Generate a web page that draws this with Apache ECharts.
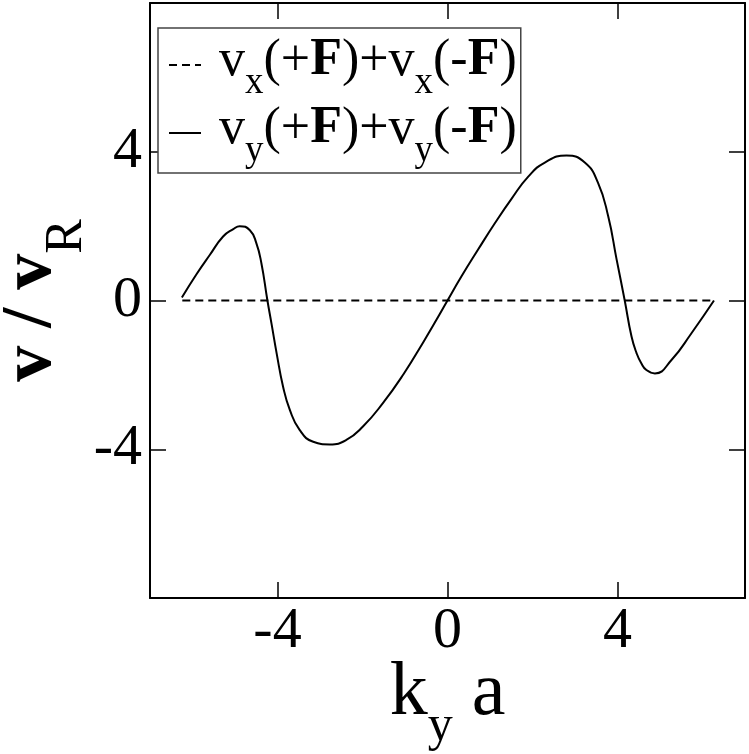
<!DOCTYPE html>
<html>
<head>
<meta charset="utf-8">
<script src="https://cdn.jsdelivr.net/npm/echarts@6.0.0/dist/echarts.min.js"></script>
<style>
  html, body { margin: 0; padding: 0; background: #ffffff; }
  #chart { width: 749px; height: 754px; }
</style>
</head>
<body>
<div id="chart"></div>
<script>
// v_x(+F)+v_x(-F) : flat at zero
const kyVx = [-6.24, 6.27];
const vx = [0, 0];

// v_y(+F)+v_y(-F)
const kyVy = [-6.25, -5.91, -5.59, -5.28, -5.04, -4.89, -4.65, -4.50, -4.38, -4.24, -4.14, -4.02, -3.87, -3.71, -3.48, -3.16, -2.77, -2.38, -1.99, -1.52, -1.04, -0.57, -0.26, 0,
              0.33, 0.72, 1.11, 1.51, 1.90, 2.29, 2.80, 3.23, 3.54, 3.78, 3.98, 4.17, 4.33, 4.45, 4.56, 4.68, 4.88, 5.27, 5.74, 6.27];
const vy = [0.08, 0.70, 1.23, 1.72, 1.92, 2.00, 1.89, 1.55, 1.01, 0.02, -0.63, -1.42, -2.31, -2.94, -3.48, -3.80, -3.87, -3.75, -3.39, -2.76, -1.99, -1.12, -0.52, 0,
            0.65, 1.37, 2.07, 2.74, 3.33, 3.71, 3.90, 3.71, 3.17, 2.27, 1.10, 0, -0.97, -1.42, -1.69, -1.87, -1.96, -1.60, -0.88, 0];

const xTicks = [-4, 0, 4];
const yTicks = [-4, 0, 4];

const serif = 'Liberation Serif';
const axisColor = '#000';

function pairs(xs, ys) {
    return xs.map((x, i) => [x, ys[i]]);
}

// box axes (bottom/left carry labels, top/right only ticks)
function xAx(pos, withLabels) {
    return {
        type: 'value', position: pos, min: -7, max: 7,
        splitLine: { show: false },
        axisLine: { show: true, onZero: false, lineStyle: { color: axisColor, width: 2 } },
        axisTick: { show: true, inside: true, length: 16, customValues: xTicks, lineStyle: { color: axisColor, width: 1.5 } },
        axisLabel: withLabels ? {
            show: true, customValues: xTicks, margin: 5, lineHeight: 58,
            fontFamily: serif, fontSize: 58, color: '#000'
        } : { show: false },
        name: withLabels ? '{m|k}{s|y}{m| a}' : '',
        nameLocation: 'middle',
        nameGap: 58,
        nameMoveOverlap: false,
        nameTextStyle: {
            rich: {
                m: { fontFamily: serif, fontSize: 76, lineHeight: 76, verticalAlign: 'top', color: '#000' },
                s: { fontFamily: serif, fontSize: 50, lineHeight: 50, verticalAlign: 'top', padding: [46, 0, 0, 0], color: '#000' }
            }
        }
    };
}

function yAx(pos, withLabels) {
    return {
        type: 'value', position: pos, min: -8, max: 8,
        splitLine: { show: false },
        axisLine: { show: true, onZero: false, lineStyle: { color: axisColor, width: 2 } },
        axisTick: { show: true, inside: true, length: 16, customValues: yTicks, lineStyle: { color: axisColor, width: 1.5 } },
        axisLabel: withLabels ? {
            show: true, customValues: yTicks, margin: 8,
            fontFamily: serif, fontSize: 58, color: '#000'
        } : { show: false },
        name: withLabels ? '{v|v / v}{r|R}' : '',
        nameLocation: 'middle',
        nameRotate: 90,
        nameGap: 75,
        nameMoveOverlap: false,
        nameTextStyle: {
            rich: {
                v: { fontFamily: serif, fontSize: 72, fontWeight: 'bold', lineHeight: 80, verticalAlign: 'top', color: '#000' },
                r: { fontFamily: serif, fontSize: 52, lineHeight: 52, verticalAlign: 'top', padding: [46, 0, 0, 0], color: '#000' }
            }
        }
    };
}

const legendText = {
    vx: '{g| }{m|v}{s|x}{m|(+}{b|F}{m|)+v}{s|x}{m|(-}{b|F}{m|)}',
    vy: '{g| }{m|v}{s|y}{m|(+}{b|F}{m|)+v}{s|y}{m|(-}{b|F}{m|)}'
};

let myChart = echarts.init(document.getElementById('chart'), null, { renderer: 'canvas' });

let option = {
    animation: false,
    backgroundColor: '#ffffff',
    grid: { left: 150, right: 4, top: 3, bottom: 156, containLabel: false, outerBoundsMode: 'none' },
    xAxis: [xAx('bottom', true), xAx('top', false)],
    yAxis: [yAx('left', true), yAx('right', false)],
    legend: {
        orient: 'vertical',
        left: 158,
        top: 28,
        padding: [7, 4, 3, 10],
        itemGap: 1,
        itemWidth: 32,
        itemHeight: 2,
        itemStyle: { opacity: 0, borderWidth: 0 },
        backgroundColor: '#ffffff',
        borderColor: '#444',
        borderWidth: 1.5,
        borderRadius: 0,
        data: ['vx', 'vy'],
        formatter: function (name) { return legendText[name]; },
        textStyle: {
            rich: {
                g: { width: 13, fontSize: 10 },
                m: { fontFamily: serif, fontSize: 52, lineHeight: 60, verticalAlign: 'top', color: '#000' },
                b: { fontFamily: serif, fontSize: 52, fontWeight: 'bold', lineHeight: 60, verticalAlign: 'top', color: '#000' },
                s: { fontFamily: serif, fontSize: 37, lineHeight: 37, verticalAlign: 'top', padding: [30, 0, 0, 0], color: '#000' }
            }
        }
    },
    series: [
        {
            name: 'vx',
            type: 'line',
            data: pairs(kyVx, vx),
            symbol: 'none',
            lineStyle: { color: '#000', width: 2, type: [8, 5] },
            itemStyle: { color: '#000' }
        },
        {
            name: 'vy',
            type: 'line',
            data: pairs(kyVy, vy),
            symbol: 'none',
            smooth: 0.5,
            lineStyle: { color: '#000', width: 2, type: 'solid' },
            itemStyle: { color: '#000' }
        }
    ]
};

myChart.setOption(option);
</script>
</body>
</html>
